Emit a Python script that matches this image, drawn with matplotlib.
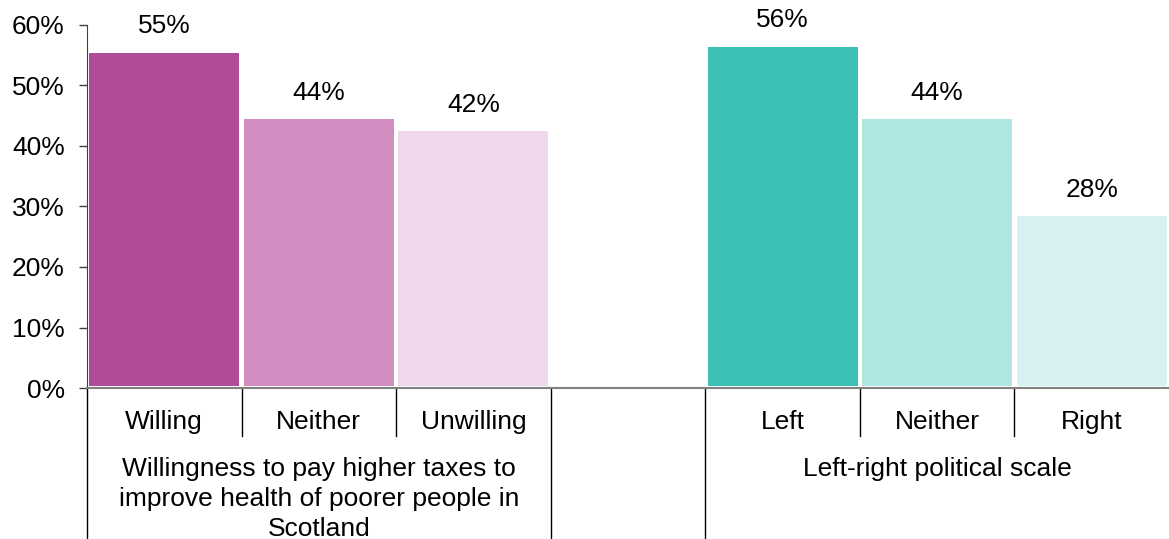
import matplotlib.pyplot as plt
from matplotlib.ticker import PercentFormatter

plt.rcParams['font.family'] = ['Liberation Sans', 'DejaVu Sans']

# survey shares, two groups separated by an empty slot
tax_labels = ['Willing', 'Neither', 'Unwilling']
tax_values = [55, 44, 42]
tax_colors = ['#b24a9a', '#d28dc1', '#f0d8ec']

pol_labels = ['Left', 'Neither', 'Right']
pol_values = [56, 44, 28]
pol_colors = ['#3cbfb4', '#b0e6e1', '#d8f1f1']

group_titles = ['Willingness to pay higher taxes to\nimprove health of poorer people in\nScotland',
                'Left-right political scale']

FS = 19

fig = plt.figure(figsize=(11.69, 5.39), dpi=100)
ax = fig.add_axes([0.0744, 0.280, 0.9256, 0.674])

x_tax = [0, 1, 2]
x_pol = [4, 5, 6]
labels = tax_labels + pol_labels
for xs, vals, cols in [(x_tax, tax_values, tax_colors), (x_pol, pol_values, pol_colors)]:
    bars = ax.bar(xs, vals, width=0.97, color=cols, bottom=0.4)
    for b, v in zip(bars, vals):
        ax.annotate(f'{v}%', (b.get_x() + b.get_width() / 2, v),
                    xytext=(0, 12), textcoords='offset points',
                    ha='center', va='bottom', fontsize=FS)

ax.set_xlim(-0.5, 6.5)
ax.set_ylim(0, 60)
ax.set_yticks(range(0, 61, 10))
ax.yaxis.set_major_formatter(PercentFormatter(decimals=0))
ax.tick_params(axis='y', labelsize=FS, length=6, width=1, color='#404040', pad=10)
ax.set_xticks([])

for s in ['top', 'right']:
    ax.spines[s].set_visible(False)
ax.spines['left'].set_color('#404040')
ax.spines['bottom'].set_color('#808080')
ax.spines['bottom'].set_linewidth(1.5)

# category labels and separators below the axis
trans = ax.get_xaxis_transform()
for x, lab in zip(x_tax + x_pol, labels):
    ax.text(x, -0.093, lab, transform=trans, ha='center', va='center', fontsize=FS)

for xb in [0.5, 1.5, 4.5, 5.5]:
    ax.plot([xb, xb], [0, -0.133], transform=trans, color='black', lw=1, clip_on=False)
for xb in [-0.5, 2.5, 3.5]:
    ax.plot([xb, xb], [0, -0.42], transform=trans, color='black', lw=1, clip_on=False)

ax.text(1, -0.19, group_titles[0], transform=trans, ha='center', va='top',
        fontsize=FS, linespacing=1.3)
ax.text(5, -0.19, group_titles[1], transform=trans, ha='center', va='top',
        fontsize=FS, linespacing=1.3)

fig.savefig('out.png', dpi=100)
